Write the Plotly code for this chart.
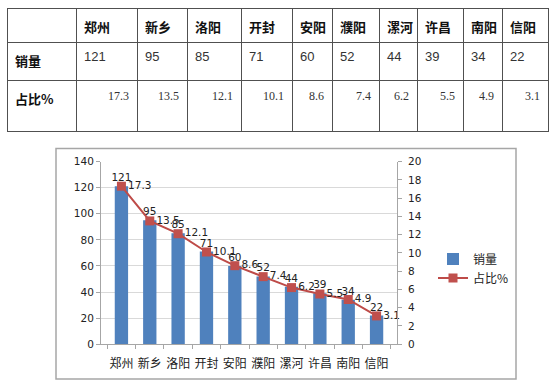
import plotly.graph_objects as go

cities = ["郑州", "新乡", "洛阳", "开封", "安阳", "濮阳", "漯河", "许昌", "南阳", "信阳"]
sales = [121, 95, 85, 71, 60, 52, 44, 39, 34, 22]
share = [17.3, 13.5, 12.1, 10.1, 8.6, 7.4, 6.2, 5.5, 4.9, 3.1]
row_labels = ["销量", "占比%"]
col_widths = [69, 61, 50, 54, 51, 40, 47, 38, 46, 39, 46]

W, H = 550, 389
CJK = "Noto Sans CJK SC"
SANS = "DejaVu Sans"
LINE = dict(color="#505050", width=1)

def px(x):
    return x / W

def py(y):
    return 1 - y / H

fig = go.Figure()

def table_row(values, top, bottom, height, align, family, size, color):
    fig.add_trace(go.Table(
        domain=dict(x=[px(7), px(548)], y=[py(bottom), py(top)]),
        columnwidth=col_widths,
        header=dict(values=values, align=align, height=height, line=LINE,
                    fill=dict(color="white"),
                    font=dict(family=family, size=size, color=color)),
        cells=dict(values=[[] for _ in values], line=LINE, fill=dict(color="white")),
    ))

n = len(cities)
# header row: cities
table_row([""] + ["<b>" + c + "</b>" for c in cities], 3, 60, 35,
          "left", CJK, 13, "#111111")
# 销量 row
table_row(["<b>" + row_labels[0] + "</b>"] + [str(s) for s in sales], 38, 100, 39,
          "left", [CJK] + ["Liberation Sans"] * n, 13, ["#111111"] + ["#333333"] * n)
# 占比% row
table_row(["<b>" + row_labels[1] + "</b>"] + ["<br>" + str(p) for p in share], 77, 140, 51,
          ["left"] + ["right"] * n, [CJK] + ["Liberation Serif"] * n,
          [13] + [12] * n, ["#111111"] + ["#333333"] * n)

# ---- chart ----
fig.add_trace(go.Bar(
    x=cities, y=sales, name="销量", marker=dict(color="#4F81BD", line=dict(width=0)),
    text=[str(v) for v in sales], textposition="outside", constraintext="none",
    textfont=dict(family=SANS, size=10.5, color="#222222"),
    cliponaxis=False, yaxis="y",
))
fig.add_trace(go.Scatter(
    x=cities, y=share, name="占比%", mode="lines+markers+text", yaxis="y2",
    line=dict(color="#BE4B48", width=2),
    marker=dict(symbol="square", size=9, color="#C0504D"),
    text=[str(v) for v in share], textposition="middle right",
    textfont=dict(family=SANS, size=10.5, color="#222222"),
    cliponaxis=False,
))

fig.add_shape(type="rect", xref="paper", yref="paper",
              x0=px(56), x1=px(516), y0=py(385), y1=py(147),
              line=dict(color="#A6A6A6", width=1.5), layer="below")

fig.update_layout(
    width=W, height=H,
    margin=dict(l=0, r=0, t=0, b=0),
    paper_bgcolor="white", plot_bgcolor="white",
    showlegend=True,
    bargap=0.53,
    legend=dict(x=px(433), y=py(246), xanchor="left", yanchor="top",
                font=dict(family=CJK, size=12, color="#222222"),
                bgcolor="rgba(0,0,0,0)", tracegroupgap=2),
    xaxis=dict(domain=[px(101), px(397)], type="category", tickangle=0,
               showline=True, linecolor="#A6A6A6", linewidth=1,
               ticks="outside", tickson="boundaries", ticklen=4, tickcolor="#A6A6A6",
               ticklabelstandoff=8,
               showgrid=False, tickfont=dict(family=CJK, size=12, color="#222222")),
    yaxis=dict(domain=[py(349), py(160.5)], range=[0, 140], dtick=20,
               showline=True, linecolor="#A6A6A6", linewidth=1,
               ticks="outside", ticklen=4, tickcolor="#A6A6A6",
               showgrid=True, gridcolor="#D9D9D9", gridwidth=1, zeroline=False,
               tickfont=dict(family=SANS, size=10.5, color="#222222")),
    yaxis2=dict(overlaying="y", side="right", range=[0, 20], dtick=2,
                showline=True, linecolor="#A6A6A6", linewidth=1,
                ticks="outside", ticklen=4, tickcolor="#A6A6A6",
                ticklabelstandoff=4,
                showgrid=False, zeroline=False,
                tickfont=dict(family=SANS, size=10.5, color="#222222")),
)

fig.write_html("out.html", config={"displayModeBar": False},
               post_script="document.body.style.margin='0px';")
